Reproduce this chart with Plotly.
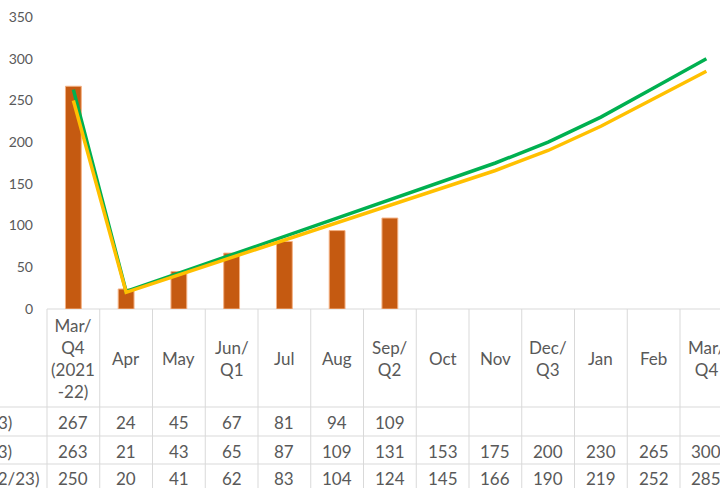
import plotly.graph_objects as go

# ---------------- data ----------------
categories = ["Mar/\nQ4\n(2021\n-22)", "Apr", "May", "Jun/\nQ1", "Jul", "Aug",
              "Sep/\nQ2", "Oct", "Nov", "Dec/\nQ3", "Jan", "Feb", "Mar/\nQ4"]
actual = [267, 24, 45, 67, 81, 94, 109, None, None, None, None, None, None]
target = [263, 21, 43, 65, 87, 109, 131, 153, 175, 200, 230, 265, 300]
projected = [250, 20, 41, 62, 83, 104, 124, 145, 166, 190, 219, 252, 285]
row_labels = ["Actual (2022-23)", "Target (2022-23)", "Projected (2022/23)"]
y_ticks = [0, 50, 100, 150, 200, 250, 300, 350]

# ---------------- layout constants ----------------
W, H = 720, 488
ML, MT, MB = 47, 17, 179
PLOT_H = H - MT - MB           # 292 px
PLOT_W = W - ML                # 673 px
COL_W = 52.75                  # px per category
TXT = "#595959"
GRID = "#D9D9D9"
FONT = "Lato"

def below(px):
    """paper y for a pixel offset below the plot bottom"""
    return -px / PLOT_H

n = len(categories)
xs = list(range(n))

fig = go.Figure()
fig.add_trace(go.Bar(
    x=xs, y=actual, width=0.3,
    marker=dict(color="#C55A11", line=dict(color="#F4B183", width=1)),
    showlegend=False, hoverinfo="skip"))
fig.add_trace(go.Scatter(
    x=xs, y=target, mode="lines",
    line=dict(color="#00B050", width=3.5), showlegend=False))
fig.add_trace(go.Scatter(
    x=xs, y=projected, mode="lines",
    line=dict(color="#FFC000", width=3.5), showlegend=False))

shapes = []
line_style = dict(color=GRID, width=1)
# top of the table (x axis line)
shapes.append(dict(type="line", xref="paper", yref="paper", x0=0, x1=1.05,
                   y0=0, y1=0, line=line_style, layer="below"))
# left border
shapes.append(dict(type="line", xref="paper", yref="paper", x0=0, x1=0,
                   y0=0, y1=below(200), line=line_style, layer="below"))
# column separators
for k in range(n):
    shapes.append(dict(type="line", xref="x", yref="paper", x0=k + 0.5, x1=k + 0.5,
                       y0=0, y1=below(200), line=line_style, layer="below"))
# row separators (extend to left edge)
for off in [98, 127, 155]:
    shapes.append(dict(type="line", xref="paper", yref="paper", x0=-0.2, x1=1.05,
                       y0=below(off), y1=below(off), line=line_style, layer="below"))

annotations = []
# header row
for i, c in enumerate(categories):
    annotations.append(dict(x=i, y=below(49), xref="x", yref="paper",
                            text=c.replace("\n", "<br>"), showarrow=False,
                            xanchor="center", yanchor="middle", align="center",
                            font=dict(family=FONT, size=17, color=TXT)))
# value rows
row_centers = [113, 142, 170]
series = [actual, target, projected]
for r, vals in enumerate(series):
    for i, v in enumerate(vals):
        if v is None:
            continue
        annotations.append(dict(x=i, y=below(row_centers[r]), xref="x", yref="paper",
                                text=str(v), showarrow=False,
                                xanchor="center", yanchor="middle",
                                font=dict(family=FONT, size=17, color=TXT)))
# row labels (mostly cut off at the left edge)
label_right_px = [14, 14, 42]
for r, lab in enumerate(row_labels):
    annotations.append(dict(x=(label_right_px[r] - ML) / PLOT_W, y=below(row_centers[r]),
                            xref="paper", yref="paper", text=lab, showarrow=False,
                            xanchor="right", yanchor="middle",
                            font=dict(family=FONT, size=17, color=TXT)))

fig.update_layout(
    width=W, height=H,
    margin=dict(l=ML, r=0, t=MT, b=MB, pad=0),
    paper_bgcolor="white", plot_bgcolor="white",
    font=dict(family=FONT, color=TXT),
    bargap=0.7,
    xaxis=dict(range=[-0.5, -0.5 + PLOT_W / COL_W], showticklabels=False,
               showgrid=False, zeroline=False, showline=False, ticks=""),
    yaxis=dict(range=[0, 350], tickvals=y_ticks, showgrid=False, zeroline=False,
               showline=False, ticks="", ticklabelstandoff=13,
               tickfont=dict(family=FONT, size=14, color=TXT)),
    shapes=shapes,
    annotations=annotations,
)

fig.write_html("out.html", config={"displayModeBar": False},
               post_script="document.body.style.margin='0';document.body.style.overflow='hidden';")
